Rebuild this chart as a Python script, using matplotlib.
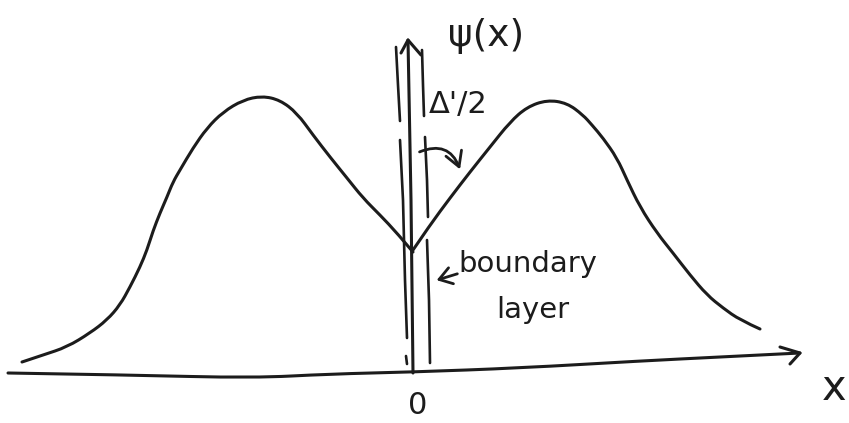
import matplotlib
matplotlib.use("Agg")
import matplotlib.pyplot as plt
from matplotlib.patches import FancyArrowPatch, PathPatch
from matplotlib.path import Path

# Sketch of the flux function psi(x) across a thin boundary layer at x = 0.
# All coordinates are in drawing units (x to the right, y downward).

# psi(x), left lobe (from the far left to the cusp at the origin)
left_x = [22, 43, 67, 90, 107, 120, 130, 140, 147, 153, 160, 167, 173, 180, 193,
          207, 223, 243, 262, 280, 297, 313, 330, 347, 363, 380, 397, 413]
left_y = [362, 355, 347, 333, 320, 305, 287, 267, 250, 231, 213, 197, 182, 170, 148,
          128, 112, 100, 96, 100, 113, 135, 157, 178, 198, 215, 233, 252]

# psi(x), right lobe (from the cusp to the far right)
right_x = [413, 430, 450, 470, 490, 510, 527, 547, 567, 583, 592, 603, 617, 627,
           640, 657, 673, 690, 707, 723, 740, 760]
right_y = [250, 225, 198, 172, 147, 122, 107, 100, 103, 115, 125, 138, 158, 180,
           207, 233, 253, 275, 295, 308, 320, 329]

# Horizontal axis (hand drawn, slightly wavy) and its arrow head
axis_x = [8, 130, 253, 330, 413, 520, 640, 720, 800]
axis_y = [373, 375, 378, 374, 372, 368, 361, 357, 353]
x_head_x = [780, 800, 790]
x_head_y = [347, 353, 364]

# Vertical axis through the origin
vaxis_x = [413, 411, 408]
vaxis_y = [373, 200, 40]
v_head_x = [401, 408, 421]
v_head_y = [53, 40, 55]

# Boundary-layer edges (broken lines on both sides of the origin)
edge_left = [([396, 398, 400], [47, 85, 121]),
             ([400, 403, 405, 407], [140, 200, 280, 338]),
             ([406, 407], [356, 364])]
edge_right = [([422, 423, 424], [50, 85, 116]),
              ([425, 427, 428], [137, 180, 217]),
              ([427, 429, 430], [240, 300, 363])]

INK = "#1c1c1c"
LW = 2.2


def smooth_path(xs, ys):
    """Quadratic-Bezier path guided by the given points (pen-like stroke)."""
    pts = list(zip(xs, ys))
    verts = [pts[0]]
    codes = [Path.MOVETO]
    for i in range(1, len(pts) - 1):
        mid = ((pts[i][0] + pts[i + 1][0]) / 2, (pts[i][1] + pts[i + 1][1]) / 2)
        if i == len(pts) - 2:
            mid = pts[-1]
        verts += [pts[i], mid]
        codes += [Path.CURVE3, Path.CURVE3]
    return Path(verts, codes)


fig = plt.figure(figsize=(8.49, 4.23), dpi=100)
ax = fig.add_axes([0, 0, 1, 1])
ax.set_xlim(0, 849)
ax.set_ylim(423, 0)
ax.axis("off")

line_kw = dict(color=INK, lw=LW, solid_capstyle="round", solid_joinstyle="round")

for xs, ys in [(left_x, left_y), (right_x, right_y), (axis_x, axis_y)]:
    ax.add_patch(PathPatch(smooth_path(xs, ys), facecolor="none", edgecolor=INK,
                           lw=LW, capstyle="round", joinstyle="round"))
ax.plot(x_head_x, x_head_y, **line_kw)
ax.plot(vaxis_x, vaxis_y, **line_kw)
ax.plot(v_head_x, v_head_y, **line_kw)
for xs, ys in edge_left + edge_right:
    ax.plot(xs, ys, color=INK, lw=1.9, solid_capstyle="round")

# Curved arrow showing the jump in slope Delta'/2
ax.add_patch(FancyArrowPatch((417, 153), (461, 172),
                             connectionstyle="arc3,rad=-0.55",
                             arrowstyle="->,head_length=7,head_width=4",
                             color=INK, lw=2.0, mutation_scale=1.5))

# Arrow pointing at the boundary layer
ax.add_patch(FancyArrowPatch((460, 273), (434, 281),
                             arrowstyle="->,head_length=6,head_width=4",
                             color=INK, lw=2.0, mutation_scale=1.5))

text_kw = dict(color=INK, family="DejaVu Sans", ha="center", va="center")
ax.text(486, 36, "ψ(x)", fontsize=27, **text_kw)
ax.text(458, 105, "Δ'/2", fontsize=22, **text_kw)
ax.text(528, 264, "boundary", fontsize=21, **text_kw)
ax.text(533, 310, "layer", fontsize=21, **text_kw)
ax.text(418, 405, "0", fontsize=22, **text_kw)
ax.text(834, 388, "x", fontsize=30, **text_kw)

fig.savefig("out.png", dpi=100, facecolor="white")
